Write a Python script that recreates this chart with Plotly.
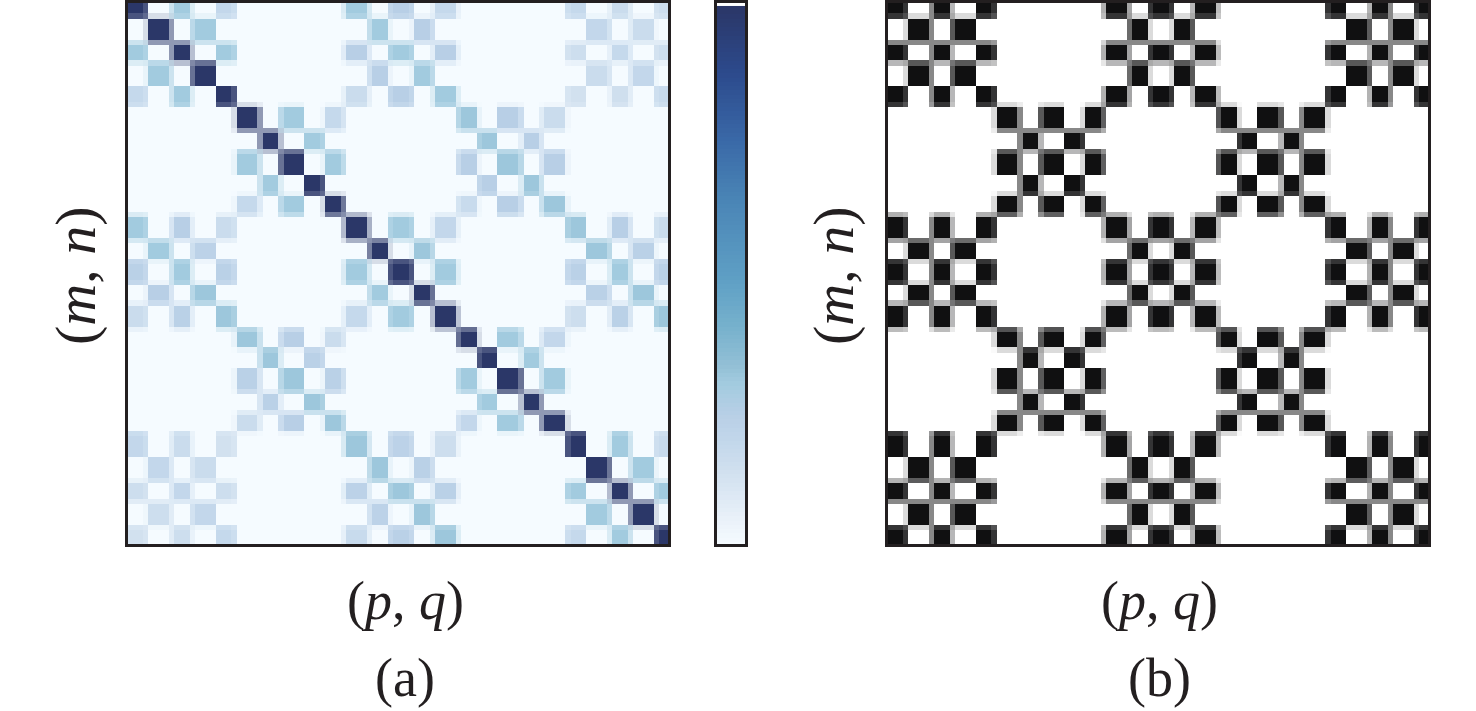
import numpy as np
import plotly.graph_objects as go

_ = 0
panel_a_values = [
 [100,_,30,_,19, _,_,_,_,_, 30,_,24,_,18, _,_,_,_,_, 18,_,16,_,15],
 [_,100,_,30,_, _,_,_,_,_, _,30,_,24,_, _,_,_,_,_, _,19,_,16,_],
 [30,_,100,_,30, _,_,_,_,_, 24,_,30,_,24, _,_,_,_,_, 15,_,18,_,15],
 [_,30,_,100,_, _,_,_,_,_, _,24,_,30,_, _,_,_,_,_, _,16,_,19,_],
 [18,_,30,_,100, _,_,_,_,_, 16,_,24,_,30, _,_,_,_,_, 13,_,14,_,17],
 [_,_,_,_,_, 100,_,30,_,18, _,_,_,_,_, 31,_,24,_,16, _,_,_,_,_],
 [_,_,_,_,_, _,100,_,30,_, _,_,_,_,_, _,31,_,24,_, _,_,_,_,_],
 [_,_,_,_,_, 30,_,100,_,30, _,_,_,_,_, 24,_,31,_,24, _,_,_,_,_],
 [_,_,_,_,_, _,30,_,100,_, _,_,_,_,_, _,24,_,31,_, _,_,_,_,_],
 [_,_,_,_,_, 18,_,30,_,100, _,_,_,_,_, 17,_,24,_,31, _,_,_,_,_],
 [30,_,24,_,16, _,_,_,_,_, 100,_,30,_,19, _,_,_,_,_, 31,_,24,_,16],
 [_,30,_,22,_, _,_,_,_,_, _,100,_,31,_, _,_,_,_,_, _,31,_,23,_],
 [23,_,30,_,23, _,_,_,_,_, 30,_,100,_,30, _,_,_,_,_, 23,_,30,_,23],
 [_,24,_,31,_, _,_,_,_,_, _,30,_,100,_, _,_,_,_,_, _,23,_,31,_],
 [16,_,23,_,31, _,_,_,_,_, 18,_,30,_,100, _,_,_,_,_, 15,_,23,_,31],
 [_,_,_,_,_, 31,_,24,_,16, _,_,_,_,_, 100,_,30,_,19, _,_,_,_,_],
 [_,_,_,_,_, _,31,_,23,_, _,_,_,_,_, _,100,_,30,_, _,_,_,_,_],
 [_,_,_,_,_, 23,_,31,_,23, _,_,_,_,_, 30,_,100,_,30, _,_,_,_,_],
 [_,_,_,_,_, _,23,_,31,_, _,_,_,_,_, _,30,_,100,_, _,_,_,_,_],
 [_,_,_,_,_, 16,_,24,_,31, _,_,_,_,_, 19,_,30,_,100, _,_,_,_,_],
 [19,_,16,_,13, _,_,_,_,_, 31,_,22,_,15, _,_,_,_,_, 100,_,30,_,17],
 [_,19,_,16,_, _,_,_,_,_, _,31,_,23,_, _,_,_,_,_, _,100,_,30,_],
 [15,_,19,_,15, _,_,_,_,_, 22,_,31,_,23, _,_,_,_,_, 30,_,100,_,30],
 [_,15,_,19,_, _,_,_,_,_, _,22,_,31,_, _,_,_,_,_, _,30,_,100,_],
 [13,_,15,_,18, _,_,_,_,_, 17,_,23,_,31, _,_,_,_,_, 18,_,30,_,100],
]

panel_b_rows = [
 "X.X.X.....X.X.X.....X.X.X",
 ".X.X.......X.X.......X.X.",
 "X.X.X.....X.X.X.....X.X.X",
 ".X.X.......X.X.......X.X.",
 "X.X.X.....X.X.X.....X.X.X",
 ".....X.X.X.....X.X.X.....",
 "......X.X.......X.X......",
 ".....X.X.X.....X.X.X.....",
 "......X.X.......X.X......",
 ".....X.X.X.....X.X.X.....",
 "X.X.X.....X.X.X.....X.X.X",
 ".X.X.......X.X.......X.X.",
 "X.X.X.....X.X.X.....X.X.X",
 ".X.X.......X.X.......X.X.",
 "X.X.X.....X.X.X.....X.X.X",
 ".....X.X.X.....X.X.X.....",
 "......X.X.......X.X......",
 ".....X.X.X.....X.X.X.....",
 "......X.X.......X.X......",
 ".....X.X.X.....X.X.X.....",
 "X.X.X.....X.X.X.....X.X.X",
 ".X.X.......X.X.......X.X.",
 "X.X.X.....X.X.X.....X.X.X",
 ".X.X.......X.X.......X.X.",
 "X.X.X.....X.X.X.....X.X.X",
]

stop_pos = [0, .05, .14, .18, .24, .30, .33, .40, .49, .64, .75, .88, 1]
stop_col = ["#f5fbff", "#e8f0f9", "#cfdfee", "#c5d9ec", "#b8cfe6", "#a2cbdf", "#94c0d6",
            "#78b2cd", "#5fa0c5", "#4a85b6", "#3a69a8", "#2c4a8c", "#2b3768"]
BLACK = (16, 16, 17)
BORDER = "#231f20"
W, H = 1476, 711

# The source figure was a coarse raster: each cell boundary falls in one raster
# pixel, and that pixel mixes the two neighbouring cells by the given share.
boundary_px_x = [3, 8, 12, 17, 20, 25, 29, 34, 37, 41, 46, 50, 54, 58, 63, 67, 71, 75, 79, 84, 88, 92, 96, 101]
boundary_px_y = [2, 7, 11, 16, 19, 24, 28, 33, 36, 40, 45, 49, 53, 57, 62, 66, 70, 74, 78, 82, 87, 91, 95, 100]
share_before = [.85, .5, .3, 0, .85, .5, .3, 0, .85, .67, .38, .15, .85, .7, .28, .15, 0, .7, .5, .15, 0, .68, .5, .15]
N_PX = 105
PX_SIZE_X, PX_SIZE_Y = 5.22, 5.218
ORIGIN_X = 0.3


def hex_rgb(h):
    return [int(h[i:i + 2], 16) for i in (1, 3, 5)]


stop_rgb = np.array([hex_rgb(c) for c in stop_col], float)


def to_rgb_a(v):
    return np.stack([np.interp(v, stop_pos, stop_rgb[:, k]) for k in range(3)], axis=-1)


def weights(boundaries):
    n_cells = len(boundaries) + 1
    w = np.zeros((N_PX, n_cells))
    for p in range(N_PX):
        cell = sum(1 for b in boundaries if b < p)
        if cell < len(boundaries) and boundaries[cell] == p:
            w[p, cell] = share_before[cell]
            w[p, cell + 1] = 1 - share_before[cell]
        else:
            w[p, cell] = 1
    return w


def raster(cells_rgb):
    return np.einsum("ia,jb,abk->ijk", weights(boundary_px_y), weights(boundary_px_x), cells_rgb)


a_vals = np.array(panel_a_values, float) / 100
b_vals = np.array([[1.0 if ch == "X" else 0.0 for ch in r] for r in panel_b_rows])
a_img = raster(to_rgb_a(a_vals))
b_img = raster(255 + b_vals[..., None] * (np.array(BLACK, float) - 255))

fig = go.Figure()
fig.add_trace(go.Image(z=a_img, x0=.5, y0=.5, dx=1, dy=1, xaxis="x", yaxis="y", hoverinfo="skip"))
fig.add_trace(go.Image(z=b_img, x0=.5, y0=.5, dx=1, dy=1, xaxis="x3", yaxis="y3", hoverinfo="skip"))
bar_levels = np.linspace(0, 1, 128)
fig.add_trace(go.Heatmap(z=bar_levels[:, None], x=[0], y=bar_levels, xaxis="x2", yaxis="y2",
                         colorscale=[[p, c] for p, c in zip(stop_pos, stop_col)],
                         zmin=0, zmax=1, showscale=False, hoverinfo="skip"))


def dom(a, b, size):
    return [a / size, b / size]


axis_style = dict(showline=True, mirror=True, linewidth=3, linecolor=BORDER, showgrid=False,
                  zeroline=False, showticklabels=False, ticks="")
Y_DOM = [1 - 544 / H, 1 - 3 / H]
RANGE_X = [ORIGIN_X, ORIGIN_X + 540 / PX_SIZE_X]
RANGE_Y = [541 / PX_SIZE_Y, 0]
fig.update_layout(
    width=W, height=H, autosize=False, margin=dict(l=0, r=0, t=0, b=0),
    paper_bgcolor="white", plot_bgcolor="white", showlegend=False,
    xaxis=dict(domain=dom(128, 668, W), range=RANGE_X, **axis_style),
    yaxis=dict(domain=Y_DOM, range=RANGE_Y, **axis_style),
    xaxis2=dict(domain=dom(717, 745, W), range=[-.5, .5], anchor="y2", **axis_style),
    yaxis2=dict(domain=Y_DOM, range=[0, 1.0095], anchor="x2", **axis_style),
    xaxis3=dict(domain=dom(888, 1428, W), range=RANGE_X, anchor="y3", **axis_style),
    yaxis3=dict(domain=Y_DOM, range=RANGE_Y, anchor="x3", **axis_style),
)


def label(text, x, y, angle=0, size=54):
    fig.add_annotation(text=text, x=x / W, y=1 - y / H, xref="paper", yref="paper",
                       showarrow=False, textangle=angle, xanchor="center", yanchor="middle",
                       font=dict(family="Liberation Serif", size=size, color="#231f20"))


label("(<i>p</i>, <i>q</i>)", 405, 601)
label("(a)", 405, 678)
label("(<i>p</i>, <i>q</i>)", 1159, 601)
label("(b)", 1159, 678)
label("(<i>m</i>, <i>n</i>)", 76, 276, angle=-90, size=58)
label("(<i>m</i>, <i>n</i>)", 834, 276, angle=-90, size=58)

fig.write_html("out.html", post_script="document.body.style.margin='0';document.body.style.overflow='hidden';",
               config={"displayModeBar": False})
